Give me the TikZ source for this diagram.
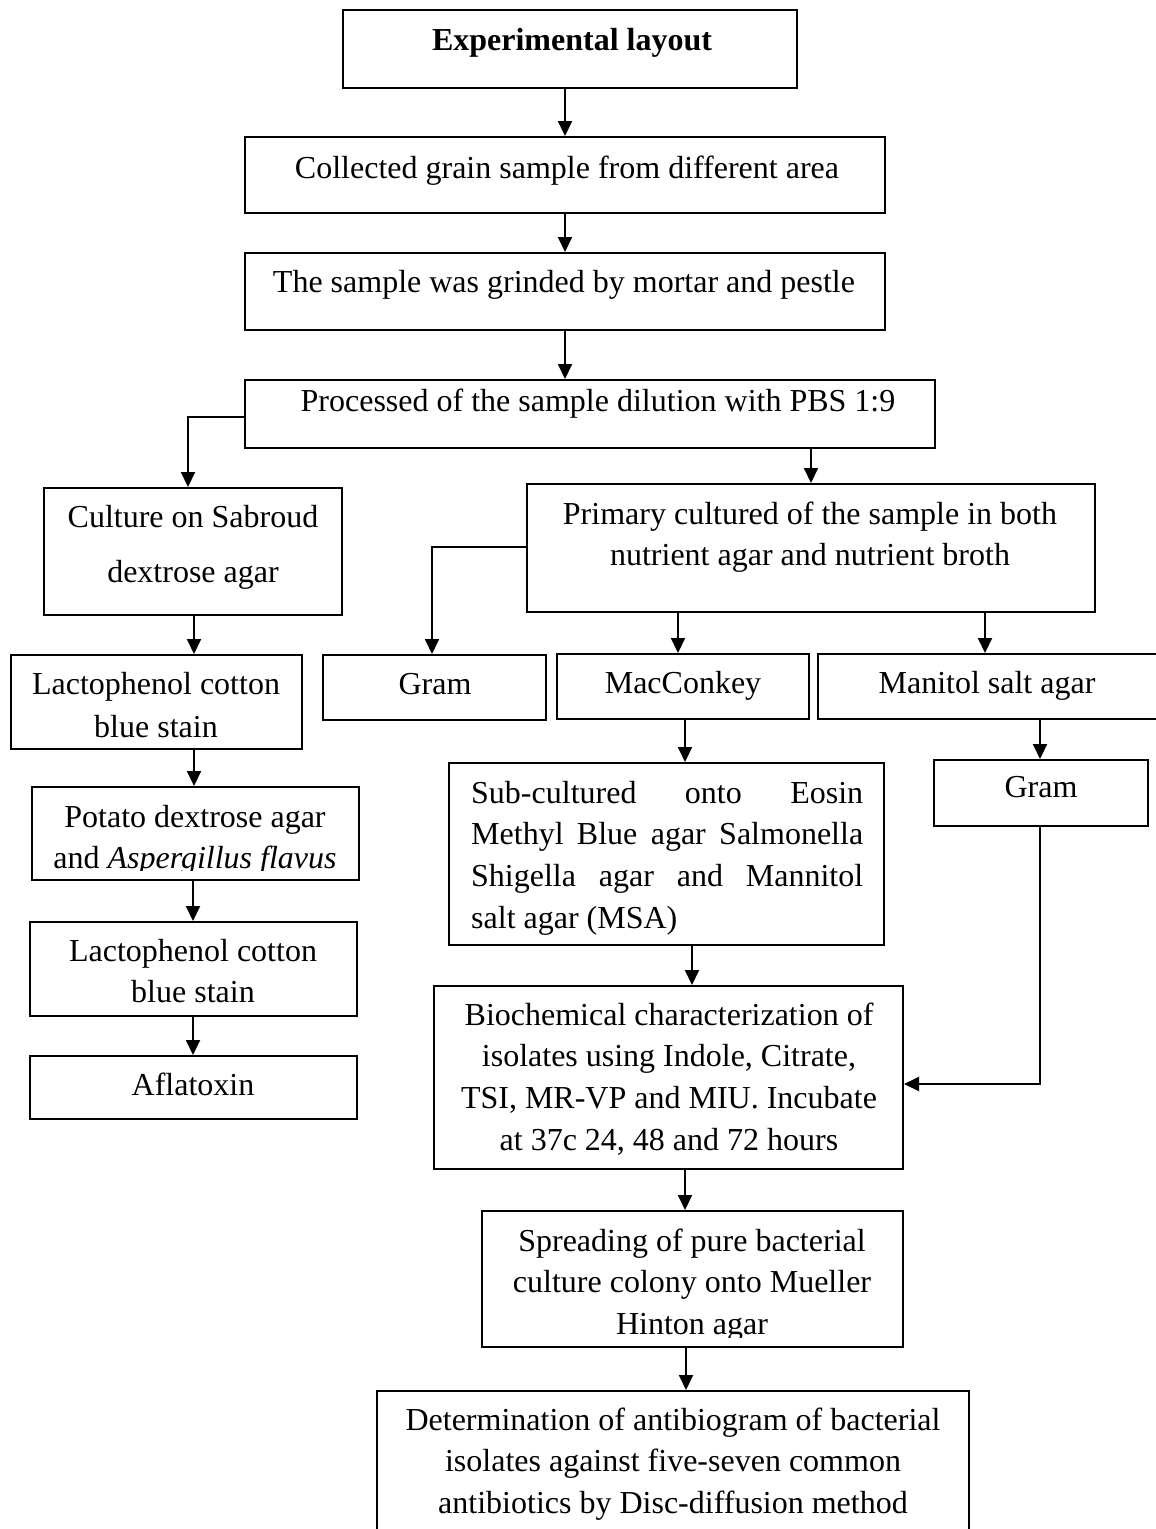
\documentclass[tikz,border=0pt]{standalone}
\usepackage{fontspec}
\setmainfont{Liberation Serif}
\usetikzlibrary{arrows.meta,fit}
\tikzset{
  box/.style={draw, line width=2pt, inner sep=0pt},
  arr/.style={line width=2pt, -{Triangle[length=15pt,width=14pt]}},
  txt/.style={inner sep=0pt, font=\fontsize{32}{41}\selectfont},
}
\begin{document}
\begin{tikzpicture}[x=1pt,y=-1pt]
\useasboundingbox (0,0) rectangle (1156,1529);
% boxes
\node[box, fit={(343,10) (797,88)}] (exp) {};
\node[box, fit={(245,137) (885,213)}] (coll) {};
\node[box, fit={(245,253) (885,330)}] (samp) {};
\node[box, fit={(245,380) (935,448)}] (proc) {};
\node[box, fit={(44,488) (342,615)}] (cult) {};
\node[box, fit={(527,484) (1095,612)}] (prim) {};
\node[box, fit={(11,655) (302,749)}] (lac1) {};
\node[box, fit={(323,655) (546,720)}] (gram1) {};
\node[box, fit={(557,654) (809,719)}] (mac) {};
\node[box, fit={(818,654) (1175,719)}] (man) {};
\node[box, fit={(449,763) (884,945)}] (sub) {};
\node[box, fit={(934,760) (1148,826)}] (gram2) {};
\node[box, fit={(32,787) (359,880)}] (pot) {};
\node[box, fit={(30,922) (357,1016)}] (lac2) {};
\node[box, fit={(30,1056) (357,1119)}] (afl) {};
\node[box, fit={(434,986) (903,1169)}] (bio) {};
\node[box, fit={(482,1211) (903,1347)}] (spr) {};
\node[box, fit={(377,1391) (969,1560)}] (det) {};
% texts
\node[txt, anchor=base] (t-exp) at (572,50) {\textbf{Experimental layout}};
\node[txt, anchor=base] (t-coll) at (567,178) {Collected grain sample from different area};
\node[txt, anchor=base] (t-samp) at (564,292) {The sample was grinded by mortar and pestle};
\node[txt, anchor=base] (t-proc) at (598,411) {Processed of the sample dilution with PBS 1:9};
\node[txt, anchor=north, align=center, font=\fontsize{32}{55}\selectfont] (t-cult) at (193,503)
  {\rule{0pt}{24pt}Culture on Sabroud\\dextrose agar};
\node[txt, anchor=north, align=center] (t-prim) at (810,500)
  {\rule{0pt}{24pt}Primary cultured of the sample in both\\nutrient agar and nutrient broth};
\node[txt, anchor=north, align=center, font=\fontsize{32}{43}\selectfont] (t-lac1) at (156,670)
  {\rule{0pt}{24pt}Lactophenol cotton\\blue stain};
\node[txt, anchor=base] (t-gram1) at (435,694) {Gram};
\node[txt, anchor=base] (t-mac) at (683,693) {MacConkey};
\node[txt, anchor=base] (t-man) at (987,693) {Manitol salt agar};
\node[txt, anchor=base] (t-gram2) at (1041,797) {Gram};
\node[txt, anchor=north west, align=left, font=\fontsize{32}{41.7}\selectfont] (t-sub) at (471,779)
  {\rule{0pt}{24pt}\makebox[392pt][s]{Sub-cultured onto Eosin}\\
   \makebox[392pt][s]{Methyl Blue agar Salmonella}\\
   \makebox[392pt][s]{Shigella agar and Mannitol}\\
   salt agar (MSA)};
\node[txt, anchor=base] (t-pot1) at (195,827) {Potato dextrose agar};
\begin{scope}
  \clip (32,787) rectangle (359,870);
  \node[txt, anchor=base] (t-pot2) at (195,868) {and \textit{Aspergillus flavus}};
\end{scope}
\node[txt, anchor=north, align=center] (t-lac2) at (193,937)
  {\rule{0pt}{24pt}Lactophenol cotton\\blue stain};
\node[txt, anchor=base] (t-afl) at (193,1095) {Aflatoxin};
\node[txt, anchor=north, align=center, font=\fontsize{32}{41.7}\selectfont] (t-bio) at (669,1001)
  {\rule{0pt}{24pt}Biochemical characterization of\\isolates using Indole, Citrate,\\TSI, MR-VP and MIU. Incubate\\at 37c 24, 48 and 72 hours};
\node[txt, anchor=north, align=center] (t-spr) at (692,1227)
  {\rule{0pt}{24pt}Spreading of pure bacterial\\culture colony onto Mueller};
\begin{scope}
  \clip (482,1211) rectangle (903,1337);
  \node[txt, anchor=base] (t-spr3) at (692,1334) {Hinton agar};
\end{scope}
\node[txt, anchor=north, align=center, font=\fontsize{32}{41.5}\selectfont] (t-det) at (673,1406)
  {\rule{0pt}{24pt}Determination of antibiogram of bacterial\\isolates against five-seven common\\antibiotics by Disc-diffusion method};
% connector guide coordinates
\coordinate (xa) at (565,0);
\coordinate (xb) at (811,0);
\coordinate (xc) at (188,0);
\coordinate (yc) at (0,417);
\coordinate (xd) at (194,0);
\coordinate (xe) at (193,0);
\coordinate (xf) at (432,0);
\coordinate (yf) at (0,547);
\coordinate (xg) at (678,0);
\coordinate (xh) at (985,0);
\coordinate (xi) at (1040,0);
\coordinate (yi) at (0,1084);
\coordinate (xj) at (685,0);
\coordinate (xk) at (692,0);
\coordinate (xl) at (686,0);
% connectors
\draw[arr] (exp.south -| xa) -- (coll.north -| xa);
\draw[arr] (coll.south -| xa) -- (samp.north -| xa);
\draw[arr] (samp.south -| xa) -- (proc.north -| xa);
\draw[arr] (proc.west |- yc) -| (cult.north -| xc);
\draw[arr] (proc.south -| xb) -- (prim.north -| xb);
\draw[arr] (cult.south -| xd) -- (lac1.north -| xd);
\draw[arr] (lac1.south -| xd) -- (pot.north -| xd);
\draw[arr] (pot.south -| xe) -- (lac2.north -| xe);
\draw[arr] (lac2.south -| xe) -- (afl.north -| xe);
\draw[arr] (prim.west |- yf) -| (gram1.north -| xf);
\draw[arr] (prim.south -| xg) -- (mac.north -| xg);
\draw[arr] (prim.south -| xh) -- (man.north -| xh);
\draw[arr] (man.south -| xi) -- (gram2.north -| xi);
\draw[arr] (gram2.south -| xi) |- (bio.east |- yi);
\draw[arr] (mac.south -| xj) -- (sub.north -| xj);
\draw[arr] (sub.south -| xk) -- (bio.north -| xk);
\draw[arr] (bio.south -| xj) -- (spr.north -| xj);
\draw[arr] (spr.south -| xl) -- (det.north -| xl);
\end{tikzpicture}
\end{document}
